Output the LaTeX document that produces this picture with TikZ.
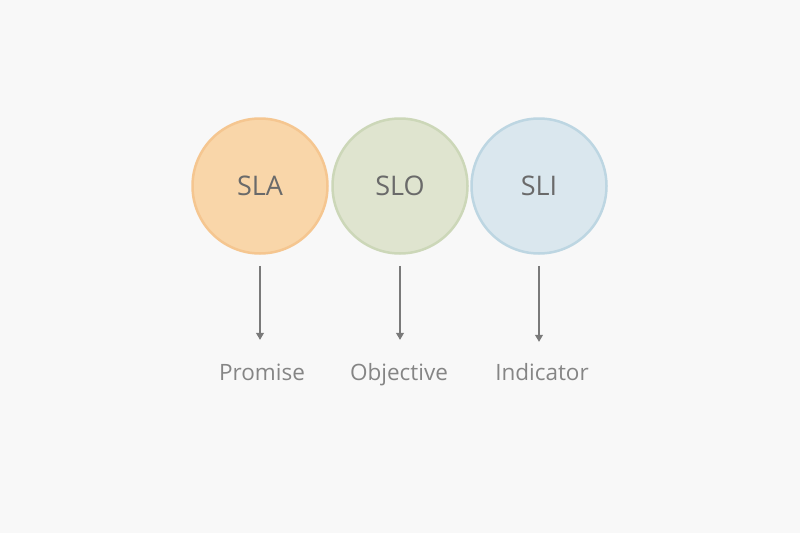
\documentclass[tikz,border=0pt]{standalone}
\usepackage{fontspec}
\setmainfont{Open Sans}
\usetikzlibrary{positioning, arrows.meta}
\definecolor{bg}{HTML}{F8F8F8}
\definecolor{slafill}{HTML}{F9D6A9}
\definecolor{sladraw}{HTML}{F5C690}
\definecolor{slofill}{HTML}{DFE4CF}
\definecolor{slodraw}{HTML}{CCD7B8}
\definecolor{slifill}{HTML}{DAE7EE}
\definecolor{slidraw}{HTML}{BDD6E2}
\definecolor{txt}{HTML}{6A6A6A}
\definecolor{lbl}{HTML}{858585}
\definecolor{arr}{HTML}{7A7A7A}
\tikzset{
  bubble/.style={circle, minimum size=135pt, inner sep=0pt, line width=2.5pt, text=txt, font=\fontsize{27}{31}\selectfont},
  tag/.style={text=lbl, font=\fontsize{22.5}{26}\selectfont, inner sep=0pt, anchor=base, text height=16pt},
  arrow/.style={-{Triangle[length=7pt, width=8pt]}, line width=1.1pt, color=arr}
}
\begin{document}
\begin{tikzpicture}[x=1pt, y=-1pt]
\useasboundingbox [fill=bg] (0, 0) rectangle (800, 533);
\node [bubble, fill=slafill, draw=sladraw] (sla) at (260, 186) {SLA};
\node [bubble, fill=slofill, draw=slodraw] (slo) at (400, 186) {SLO};
\node [bubble, fill=slifill, draw=slidraw] (sli) at (539, 186) {SLI};
\node [tag] (promise) at (262, 380) {Promise};
\node [tag] (objective) at (399, 380) {Objective};
\node [tag] (indicator) at (542, 380) {Indicator};
\draw [arrow] ([yshift=-11pt]sla.south) -- ([yshift=24pt]sla.south |- promise.north);
\draw [arrow] ([yshift=-11pt]slo.south) -- ([yshift=24pt]slo.south |- objective.north);
\draw [arrow] ([yshift=-11pt]sli.south) -- ([yshift=22pt]sli.south |- indicator.north);
\end{tikzpicture}
\end{document}
